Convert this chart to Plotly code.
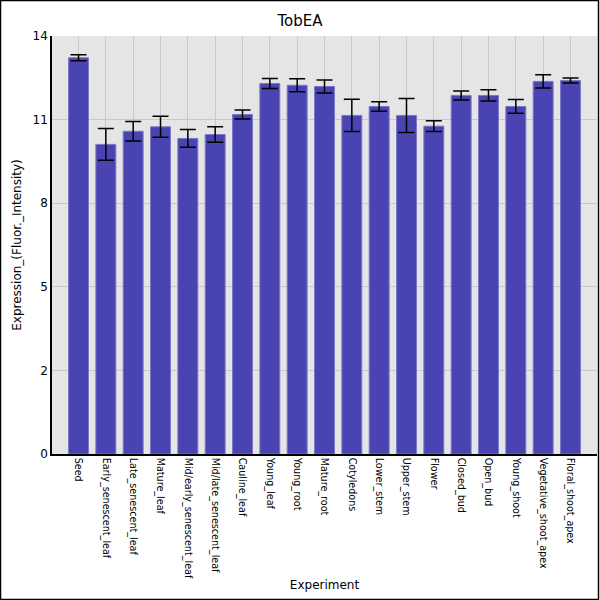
import plotly.graph_objects as go

experiments = [
    "Seed", "Early_senescent_leaf", "Late_senescent_leaf", "Mature_leaf",
    "Mid/early_senescent_leaf", "Mid/late_senescent_leaf", "Cauline_leaf",
    "Young_leaf", "Young_root", "Mature_root", "Cotyledons", "Lower_stem",
    "Upper_stem", "Flower", "Closed_bud", "Open_bud", "Young_shoot",
    "Vegetative_shoot_apex", "Floral_shoot_apex",
]
expression = [13.27, 10.37, 10.81, 10.96, 10.57, 10.70, 11.37, 12.41, 12.35,
              12.31, 11.34, 11.64, 11.34, 10.98, 12.01, 12.01, 11.64, 12.48, 12.51]
errors = [0.10, 0.53, 0.33, 0.35, 0.30, 0.26, 0.15, 0.17, 0.22,
          0.22, 0.54, 0.16, 0.57, 0.18, 0.15, 0.19, 0.23, 0.22, 0.08]

y_tickvals = [0, 2.8, 5.6, 8.4, 11.2, 14]
y_ticktext = ["0", "2", "5", "8", "11", "14"]

fig = go.Figure(
    go.Bar(
        x=experiments,
        y=expression,
        error_y=dict(type="data", array=errors, color="black", thickness=1.5, width=8),
        marker=dict(color="#4a44b2", line=dict(color="#7d78c8", width=1)),
    )
)

fig.update_layout(
    width=600,
    height=600,
    margin=dict(l=52, r=3, t=36, b=146, autoexpand=False),
    paper_bgcolor="white",
    plot_bgcolor="#e5e5e5",
    font=dict(family="DejaVu Sans", color="black", size=12),
    title=dict(text="TobEA", x=0.5, xref="container", y=0.966, yanchor="middle",
               font=dict(size=15, color="black")),
    bargap=0.27,
    showlegend=False,
)
fig.update_xaxes(
    automargin=False,
    title=dict(text="Experiment", font=dict(size=12), standoff=3),
    tickangle=90,
    tickfont=dict(size=9.6),
    range=[-0.97, 18.97],
    showgrid=True,
    gridcolor="#c8c8c8",
    showline=True,
    linecolor="black",
    linewidth=1.5,
    ticks="",
)
fig.update_yaxes(
    automargin=False,
    title=dict(text="Expression_(Fluor._Intensity)", font=dict(size=12), standoff=8),
    range=[0, 14],
    tickvals=y_tickvals,
    ticktext=y_ticktext,
    tickfont=dict(size=12),
    showgrid=True,
    gridcolor="#c8c8c8",
    showline=True,
    linecolor="black",
    linewidth=1.5,
    zeroline=False,
    ticks="",
)

# black frame round the whole picture
fig.add_shape(
    type="rect", xref="paper", yref="paper",
    x0=-51.5 / 545, x1=546.5 / 545, y0=-145.5 / 418, y1=1 + 35.5 / 418,
    line=dict(color="black", width=1.5), fillcolor="rgba(0,0,0,0)",
)

# drop the page's default body margin so the figure sits at 0,0
fig.write_html(
    "out.html",
    config={"displayModeBar": False},
    post_script="document.body.style.margin='0';",
)
